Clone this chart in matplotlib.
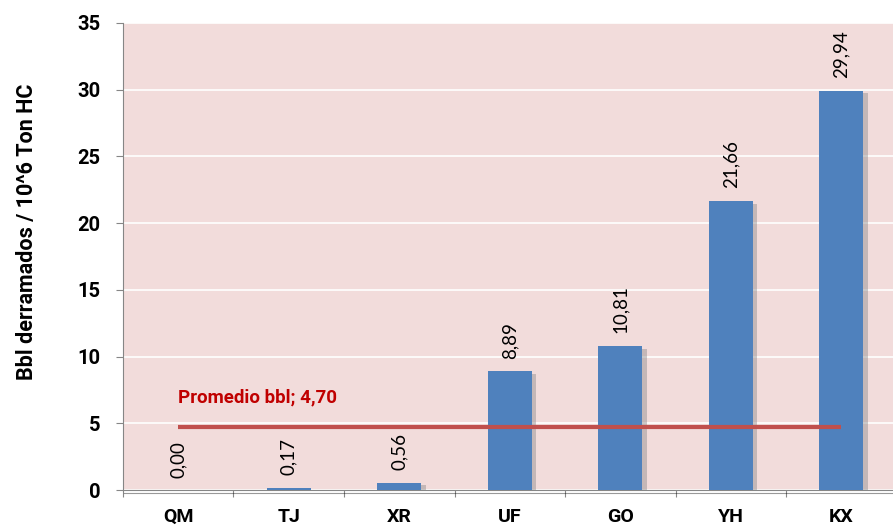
import matplotlib
matplotlib.use("Agg")
import matplotlib.pyplot as plt
import matplotlib.patheffects as pe

categories = ["QM", "TJ", "XR", "UF", "GO", "YH", "KX"]
values = [0.00, 0.17, 0.56, 8.89, 10.81, 21.66, 29.94]
average = 4.70
avg_label = "Promedio bbl; 4,70"
y_ticks = [0, 5, 10, 15, 20, 25, 30, 35]

plt.rcParams['font.family'] = ['Lato', 'DejaVu Sans']
BOLD = ['Roboto', 'DejaVu Sans']

fig = plt.figure(figsize=(8.93, 5.31), dpi=100)
ax = fig.add_axes([0.1377, 0.0772, 1.004 - 0.1377, 0.9567 - 0.0772])
ax.set_facecolor("#F2DCDB")

x = list(range(len(categories)))
bars = ax.bar(x, values, width=0.4, color="#4F81BD", zorder=3)
for b in bars:
    b.set_path_effects([pe.SimplePatchShadow(offset=(3, -2), shadow_rgbFace="#8C8C8C", alpha=0.45), pe.Normal()])

ax.plot([x[0], x[-1]], [average, average], color="#C0504D", lw=3, zorder=4, solid_capstyle="butt")
ax.annotate(avg_label, (x[0], average), xytext=(0, 15), textcoords="offset points",
            ha="left", va="bottom", color="#C00000", fontsize=13.5, fontweight="bold", family=BOLD)

for xi, v in zip(x, values):
    ax.annotate(f"{v:.2f}".replace(".", ","), (xi, v), xytext=(0, 9), textcoords="offset points",
                rotation=90, ha="center", va="bottom", fontsize=13.5, color="black", zorder=5)

ax.set_xlim(-0.5, len(categories) - 0.5)
ax.set_ylim(0, 35)
ax.set_yticks(y_ticks)
ax.set_yticklabels([str(t) for t in y_ticks], fontsize=14.5, fontweight="bold", family=BOLD)
ax.yaxis.grid(True, color="white", lw=1.2, zorder=1)
ax.set_axisbelow(True)

ax.set_xticks([i + 0.5 for i in range(-1, len(categories))], minor=False)
ax.set_xticklabels([])
ax.set_xticks(x, minor=True)
ax.set_xticklabels(categories, minor=True, fontsize=14, fontweight="bold", family=BOLD)
ax.tick_params(axis="x", which="minor", length=0, pad=13)
ax.tick_params(axis="x", which="major", length=5, color="#868686", direction="out")
ax.tick_params(axis="y", length=5, color="#868686", pad=11)

for s in ["top", "right"]:
    ax.spines[s].set_visible(False)
ax.spines["left"].set_color("#868686")
ax.spines["bottom"].set_color("#868686")
ax.spines["bottom"].set_path_effects([pe.SimpleLineShadow(offset=(1, -2), alpha=0.4), pe.Normal()])

ax.set_ylabel("Bbl derramados / 10^6 Ton HC", fontsize=15.5, fontweight="bold", family=BOLD)
ax.yaxis.set_label_coords(-0.11, 0.552)

fig.savefig("out.png", dpi=100)
